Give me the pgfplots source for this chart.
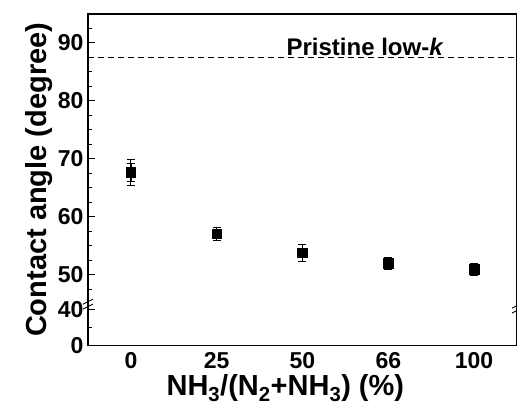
\documentclass[border=0pt]{standalone}
\usepackage{fontspec}
\setmainfont{Liberation Sans}
\usepackage{pgfplots}
\pgfplotsset{compat=1.18}

\begin{document}
\begin{tikzpicture}
\path[use as bounding box] (-88pt,-59.3pt) rectangle (429pt,345.7pt);
\begin{axis}[
  at={(0,0)},anchor=south west,
  scale only axis,width=429pt,height=331.7pt,
  xmin=-0.5,xmax=4.5,ymin=37.8,ymax=95,
  xtick={0,1,2,3,4},xticklabels={0,25,50,66,100},
  ytick={37.8,44,50,60,70,80,90},yticklabels={0,40,50,60,70,80,90},
  minor ytick={40.9,47.5,52.5,55,57.5,62.5,65,67.5,72.5,75,77.5,82.5,85,87.5,92.5},
  ytick pos=left,tick align=inside,
  xtick style={draw=none},
  major tick length=7pt,minor tick length=4pt,
  every tick/.style={black,line width=1pt},
  axis line style={line width=1.2pt},
  ticklabel style={font=\fontsize{23}{23}\selectfont\bfseries},
  /pgf/number format/assume math mode=true,
  xticklabel style={inner sep=1pt,yshift=-6pt},
  yticklabel style={xshift=-1pt},
  xlabel={NH\textsubscript{3}/(N\textsubscript{2}+NH\textsubscript{3}) (\%)},
  ylabel={Contact angle (degree)},
  label style={font=\fontsize{29}{29}\selectfont\bfseries},
  xlabel style={at={(axis description cs:0.46,0)},anchor=base,inner sep=0pt,yshift=-50pt},
  ylabel style={yshift=-2pt},
  clip=false,
]
% dashed reference line: pristine low-k
\addplot[black,line width=0.9pt,dash pattern=on 6pt off 4pt] coordinates {(-0.5,87.5) (4.5,87.5)};
\node[anchor=base,font=\fontsize{24}{24}\selectfont\bfseries,inner sep=0pt]
  at (axis cs:2.73,87.9) {Pristine low-\textit{k}};
% outer error bars
\addplot[black,only marks,mark=square*,mark size=4.8pt,
  error bars/.cd,y dir=both,y explicit,error mark options={rotate=90,mark size=4pt,line width=0.7pt},
  error bar style={line width=0.8pt}]
  coordinates {
  (0,67.7) +- (0,2.2)
  (1,57.1) +- (0,1.1)
  (2,53.85) +- (0,1.45)
  (3,52.0) +- (0,1.05)
  (4,51.0) +- (0,1.05)
  };
% inner caps on the first point
\addplot[black,only marks,mark=none,
  error bars/.cd,y dir=both,y explicit,error mark options={rotate=90,mark size=4pt,line width=0.7pt}]
  coordinates {(0,67.7) +- (0,1.5)};
% axis break marks
\draw[black,line width=0.9pt] ([xshift=-5pt,yshift=-2.5pt]axis cs:-0.5,44.55) -- ([xshift=5pt,yshift=2.5pt]axis cs:-0.5,44.55);
\draw[black,line width=0.9pt] ([xshift=-5pt,yshift=-2.5pt]axis cs:-0.5,45.4) -- ([xshift=5pt,yshift=2.5pt]axis cs:-0.5,45.4);
\draw[black,line width=0.9pt] ([xshift=-5pt,yshift=-2.5pt]axis cs:4.5,43.85) -- ([xshift=5pt,yshift=2.5pt]axis cs:4.5,43.85);
\draw[black,line width=0.9pt] ([xshift=-5pt,yshift=-2.5pt]axis cs:4.5,44.7) -- ([xshift=5pt,yshift=2.5pt]axis cs:4.5,44.7);
\end{axis}
\end{tikzpicture}
\end{document}
